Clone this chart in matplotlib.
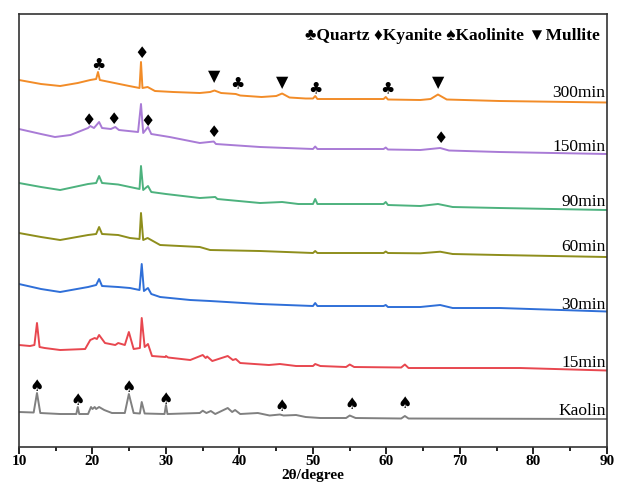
import matplotlib
matplotlib.use("Agg")
import matplotlib.pyplot as plt

# XRD patterns, vertices (2theta, intensity a.u.)
tt_300 = [10.0, 13, 15.6, 18, 19.7, 20.5, 20.75, 21.0, 23, 25, 26.4, 26.6, 26.8, 27.5, 28.5, 31, 34.6, 36.0, 36.6,
          37.5, 39.5, 40.1, 43, 45.0, 45.8, 46.8, 49, 50.0, 50.3, 50.6, 55, 59.6, 59.9, 60.2, 64.6, 66, 67.0, 68.2,
          75.4, 90]
i_300 = [367, 363, 361, 364, 367, 368, 375, 367, 364, 361, 359, 385, 359, 360, 356, 355, 354, 355, 356.5,
         354, 353, 351.5, 350, 351, 353.5, 349.5, 348.5, 348.5, 351, 348, 348, 348, 350, 347.5, 347, 348, 352.5, 347.5,
         346, 344.5]

tt_150 = [10.0, 13, 14.9, 17, 19.4, 19.7, 20.2, 20.9, 21.3, 22.5, 23.1, 23.6, 26.2, 26.6, 26.9, 27.55, 28.0, 30.5,
          34.6, 36.5, 36.8, 42.8, 50.0, 50.3, 50.6, 59.6, 59.9, 60.2, 64.6, 67.3, 68.5, 75.4, 90]
i_150 = [318, 313, 310, 312, 319, 321, 319, 325, 319, 318, 320, 317, 315, 343, 314, 320, 313, 310,
         304, 305.5, 303, 300, 298, 300.5, 298, 298, 299.5, 297.5, 297, 299, 296.5, 295, 293]

tt_90 = [10, 13, 15.6, 19.4, 20.5, 20.9, 21.3, 23.5, 25.1, 26.4, 26.6, 26.9, 27.55, 28.0, 30, 34.6, 36.7, 37.0,
         42.8, 45.8, 48, 50.0, 50.3, 50.6, 59.6, 59.9, 60.2, 64.6, 67.0, 69, 75.4, 90]
i_90 = [264, 260, 257, 263, 264, 271, 264, 262.5, 260, 258, 281, 257, 261, 255, 253, 249, 250, 248,
        244, 245, 243, 243, 248, 243, 243, 245, 242, 241, 243, 240, 239, 237]

tt_60 = [10, 13, 15.6, 19.4, 20.5, 20.9, 21.3, 23.5, 25.1, 26.4, 26.6, 26.9, 27.5, 29.2, 34.6, 36.0, 42.8,
         50.0, 50.3, 50.6, 59.6, 59.9, 60.2, 64.6, 67.3, 69, 75.4, 90]
i_60 = [214, 210, 207, 212, 213, 220, 213, 212, 209, 208, 234, 207, 209, 202, 200, 197, 196,
        194, 196, 194, 194, 195.5, 194, 193.7, 195.3, 193, 192, 190]

tt_30 = [10, 13, 15.6, 19.4, 20.5, 20.9, 21.3, 23.5, 25.1, 26.4, 26.7, 27.0, 27.55, 28.0, 29.2, 33.3, 36.0,
         42.8, 50.0, 50.3, 50.6, 59.6, 59.9, 60.2, 64.6, 67.3, 69, 75.4, 90]
i_30 = [163, 158, 155, 160, 162, 168, 161, 160, 159, 157, 183, 156, 159, 153, 150, 147, 146,
        143, 141, 144, 141, 141, 142, 140, 140, 142, 139, 139, 135.5]

tt_15 = [10, 11.5, 12.1, 12.45, 12.8, 13.5, 15.6, 19.0, 19.7, 20.3, 20.6, 20.9, 21.7, 23.1, 23.5, 24.4, 24.95,
         25.6, 26.45, 26.7, 27.1, 27.55, 28.1, 29.9, 30.0, 30.3, 33.3, 35.0, 35.4, 35.6, 36.3, 38.4, 39.1, 39.5,
         40.1, 44, 45.5, 47.7, 50.0, 50.3, 51.0, 54.5, 55.0, 55.6, 62.0, 62.5, 63.0, 78.2, 90]
i_15 = [102, 101, 102, 124, 100, 99, 97, 98, 107, 109, 108, 112, 104, 102, 104, 102, 115,
        98, 99, 129, 100, 103, 91, 90, 91, 89.5, 87, 92, 89, 90.5, 86, 91, 87, 88,
        84, 82, 83, 81, 81, 83, 81, 80, 82.5, 80, 79.5, 82.5, 79, 79, 76.5]

tt_kao = [10, 12.0, 12.45, 12.9, 15.6, 17.8, 18.0, 18.2, 19.4, 19.8, 20.0, 20.3, 20.5, 20.9, 21.6, 22.65, 24.4,
          24.95, 25.6, 26.45, 26.7, 27.1, 29.8, 30.0, 30.2, 34.6, 35.0, 35.5, 36.1, 36.7, 38.4, 39.0, 39.4, 40.1,
          42.5, 44.1, 45.5, 46.0, 47.7, 49, 51, 54.5, 55.0, 55.8, 62.0, 62.5, 63.0, 90]
i_kao = [35, 34.5, 54, 34, 33, 33, 40, 33, 33, 40, 38, 40, 38, 40, 37, 34, 34,
         53, 34, 33.5, 45, 33.5, 33, 42, 33, 34, 36.3, 34, 36, 33, 39, 35, 37, 33,
         34, 31.5, 32.5, 31.5, 32, 30, 29, 29, 31.5, 29, 28.5, 31, 28.5, 28]

series = [
    ("300min", tt_300, i_300, "#F28C28", 354),
    ("150min", tt_150, i_150, "#A97BD6", 300),
    ("90min", tt_90, i_90, "#4DB27E", 245),
    ("60min", tt_60, i_60, "#8E8E1C", 200),
    ("30min", tt_30, i_30, "#2F6FD8", 142),
    ("15min", tt_15, i_15, "#E8474F", 84),
    ("Kaolin", tt_kao, i_kao, "#808080", 36),
]

# phase markers (2theta, height)
quartz = [(20.75, 382), (39.65, 363), (50.3, 358), (60.1, 358)]
kyanite = [(26.7, 394), (19.5, 327), (22.9, 328), (27.55, 326), (36.5, 315), (67.4, 309)]
kaolinite = [(12.45, 61), (18.0, 47), (24.95, 60), (30.0, 48), (45.8, 41), (55.2, 43), (62.5, 44)]
mullite = [(36.5, 370), (45.8, 364), (67.0, 364)]

serif = ["Liberation Serif", "DejaVu Sans"]

fig = plt.figure(figsize=(6.18, 4.88), dpi=100)
ax = fig.add_axes([0.0307, 0.084, 0.9515, 0.8873])

for name, xs, ys, col, ylab in series:
    ax.plot(xs, ys, color=col, lw=1.4)
    ax.text(89.8, ylab, name, ha="right", va="center", fontsize=12.5, family=serif)

for sym, pts in [("\u2663", quartz), ("\u2666", kyanite), ("\u2660", kaolinite), ("\u25BC", mullite)]:
    for x, y in pts:
        ax.text(x, y, sym, ha="center", va="center", fontsize=11.5, family="DejaVu Sans")

ax.text(0.988, 0.95, "\u2663Quartz \u2666Kyanite \u2660Kaolinite \u25BCMullite", transform=ax.transAxes,
        ha="right", va="center", fontsize=12.5, fontweight="bold", family=serif)

ax.set_xlim(10, 90)
ax.set_ylim(0, 433)
ax.set_yticks([])
ax.set_xticks(range(10, 91, 10))
ax.set_xticks(range(15, 90, 10), minor=True)
ax.tick_params(axis="x", which="major", length=5, width=1.2, direction="out", pad=1)
ax.tick_params(axis="x", which="minor", length=3, width=1.2, direction="out")
for lab in ax.get_xticklabels():
    lab.set_family(serif)
    lab.set_fontweight("bold")
    lab.set_fontsize(11)
for sp in ax.spines.values():
    sp.set_linewidth(1.2)
    sp.set_color("#333333")
ax.set_xlabel("2\u03b8/degree", fontsize=11, fontweight="bold", family=serif, labelpad=0.5)

fig.savefig("out.png", dpi=100)
